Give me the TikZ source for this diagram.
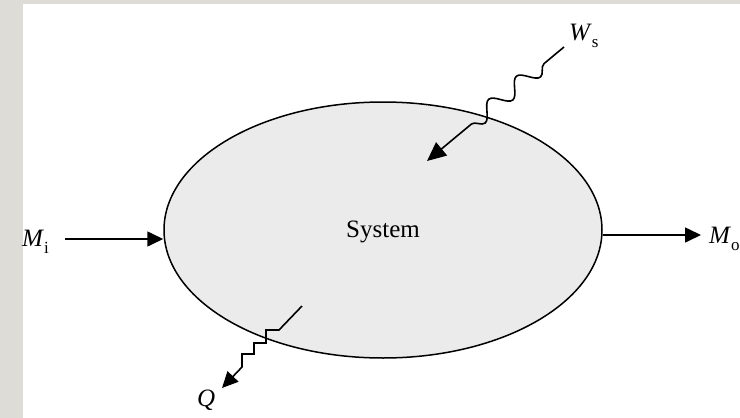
\documentclass[tikz,border=0pt]{standalone}
\usepackage{fontspec}
\setmainfont{Liberation Serif}
\usetikzlibrary{calc,positioning,arrows.meta,shapes.geometric,decorations.pathmorphing}
\definecolor{PageGray}{HTML}{DEDCD7}
\definecolor{SystemFill}{HTML}{EBEBEB}
\newcommand{\flowlabel}[2]{\textit{#1}\raisebox{-0.3em}{\fontsize{17}{17}\selectfont #2}}

\begin{document}
\begin{tikzpicture}[x=1pt,y=-1pt,
  flow/.style={line width=1.6pt,-{Triangle[length=16pt,width=15pt]}},
  flowtext/.style={inner sep=0pt,font=\fontsize{25}{30}\selectfont}
]
\useasboundingbox (0,0) rectangle (740,418);
\fill[PageGray] (0,0) rectangle (740,418);
\fill[white] (23,4) rectangle (740,418);

\node[
  ellipse,
  draw,
  line width=1.5pt,
  fill=SystemFill,
  inner sep=0pt,
  minimum width=438pt,
  minimum height=256pt
] (sys) at (383,230) {};
\node[flowtext, anchor=base] (systxt) at (383,237) {System};

\node[flowtext, anchor=base west] (Mi) at (22,246) {\flowlabel{M}{i}};
\node[flowtext, anchor=base west] (Mo) at (709,243) {\flowlabel{M}{o}};
\node[flowtext, anchor=base west] (Ws) at (569,40) {\flowlabel{W}{s}};
\node[flowtext, anchor=base west] (Q) at (197,406) {\textit{Q}};

\coordinate (mi-tail) at (65,239);
\coordinate (mo-tip) at (701,235);
\coordinate (ws-tail) at (564,47);
\coordinate (ws-tip) at (427,161);
\coordinate (q-tail) at (302,306);
\coordinate (q-tip) at (222,388);

\draw[flow] (mi-tail) -- (mi-tail -| sys.west);
\draw[flow] (sys.east |- mo-tip) -- (mo-tip);
\draw[flow, -{Triangle[length=19pt,width=17pt]}, decorate,
  decoration={snake, amplitude=8pt, segment length=36pt,
  pre length=26pt, post length=40pt}] (ws-tail) -- (ws-tip);
\draw[flow] (q-tail) -- ++(-23,24) -- ++(-13,0) -- ++(0,13) -- ++(-12,0)
  -- ++(0,11) -- ++(-12,0) -- ++(0,13) -- (q-tip);
\end{tikzpicture}
\end{document}
